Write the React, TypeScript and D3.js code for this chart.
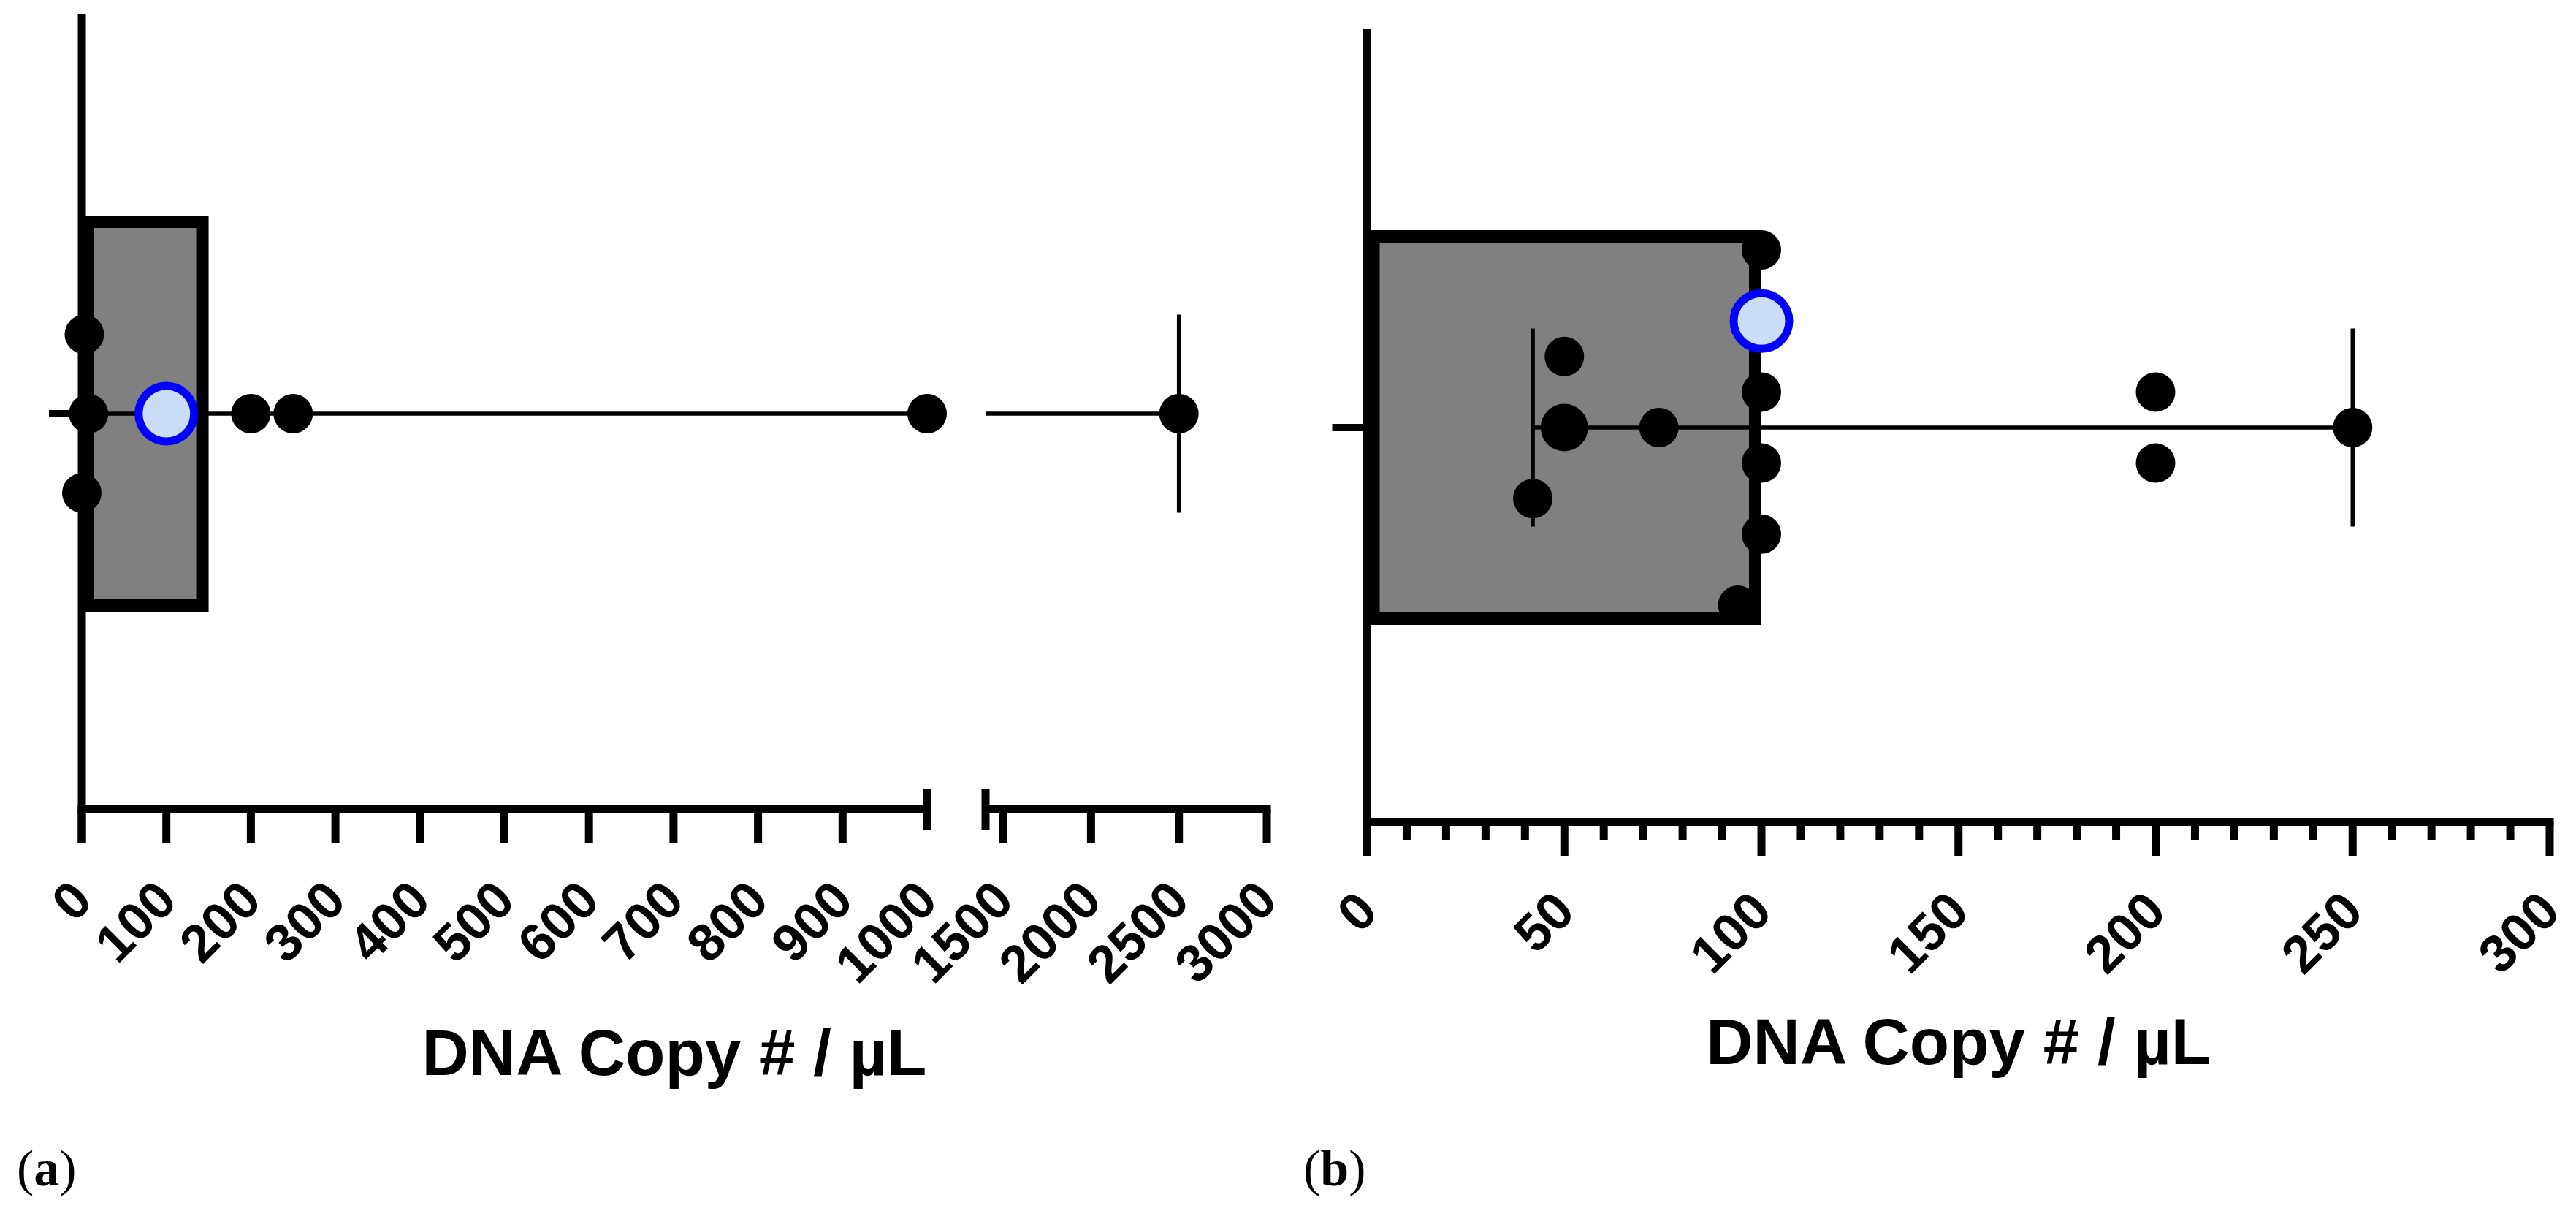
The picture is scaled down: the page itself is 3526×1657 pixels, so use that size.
import React from "react";
import * as d3 from "d3";

// ---------- Panel (a) data ----------
const ticksA1 = [0, 100, 200, 300, 400, 500, 600, 700, 800, 900, 1000];
const ticksA2 = [1500, 2000, 2500, 3000];
const segmentA1 = [0, 1000];
const segmentA2 = [1400, 3000];
const valuesA = [3, 8, 0, 100, 200, 250, 1000, 2500];
const slotsA = [-1, 0, 1, 0, 0, 0, 0, 0];
const highlightA = 3;
const barA = 150;
const rangeA = [0, 2500];

// ---------- Panel (b) data ----------
const ticksB = [0, 50, 100, 150, 200, 250, 300];
const minorTicksB = d3.range(0, 301, 10);
const valuesB = [100, 100, 50, 100, 50, 74, 100, 42, 100, 94, 200, 200, 250];
const slotsB = [-5, -3, -2, -1, 0, 0, 1, 2, 3, 5, -1, 1, 0];
const countsB = [1, 1, 1, 1, 2, 1, 1, 1, 1, 1, 1, 1, 1];
const highlightB = 1;
const barB = 100;
const rangeB = [42, 250];

const axisTitle = "DNA Copy # / µL";
const panelLetters = ["a", "b"];

const FONT = "'Liberation Sans', Arial, sans-serif";
const SERIF = "'Liberation Serif', 'Times New Roman', serif";
const AXW = 11;
const BORDER = 17;
const ERRW = 5.5;
const R = 27;
const BLUE_R = 38;
const BLUE_W = 11;
const TICK_FS = 72;
const TITLE_FS = 89;

function Dot({ cx, cy, highlight, r }: { cx: number; cy: number; highlight: boolean; r: number }) {
  if (highlight)
    return <circle cx={cx} cy={cy} r={BLUE_R} fill="#C9DDF6" stroke="#0000FF" strokeWidth={BLUE_W} />;
  return <circle cx={cx} cy={cy} r={r} fill="#000" />;
}

function TickLabel({ x, y, text }: { x: number; y: number; text: string }) {
  return (
    <text
      transform={`translate(${x},${y}) rotate(-45)`}
      textAnchor="end"
      dominantBaseline="central"
      fontFamily={FONT}
      fontWeight="bold"
      fontSize={TICK_FS}
    >
      {text}
    </text>
  );
}

function PanelA() {
  const axisY = 1107;
  const axisX = 112;
  const topY = 19;
  const cy = 566;
  const half = 271;
  const tickLen = 47;
  const capHalf = 135.5;
  const slot = 108.5;
  const labelY = 1218;
  const x1 = d3.scaleLinear().domain(segmentA1).range([axisX, 1269]);
  const x2 = d3.scaleLinear().domain(segmentA2).range([1349, 1734]);
  const xs = (v: number) => (v <= segmentA1[1] ? x1(v) : x2(v));
  const y = d3.scaleLinear().domain([-1, 1]).range([cy - slot, cy + slot]);
  const barR = x1(barA);
  return (
    <g>
      <rect
        x={axisX + BORDER / 2}
        y={cy - half + BORDER / 2}
        width={barR - axisX - BORDER}
        height={2 * half - BORDER}
        fill="#808080"
        stroke="#000"
        strokeWidth={BORDER}
      />
      <line x1={xs(rangeA[0])} x2={x1(segmentA1[1])} y1={cy} y2={cy} stroke="#000" strokeWidth={ERRW} />
      <line x1={x2(segmentA2[0])} x2={xs(rangeA[1])} y1={cy} y2={cy} stroke="#000" strokeWidth={ERRW} />
      <line x1={xs(rangeA[1])} x2={xs(rangeA[1])} y1={cy - capHalf} y2={cy + capHalf} stroke="#000" strokeWidth={ERRW} />
      <line x1={xs(rangeA[0])} x2={xs(rangeA[0])} y1={cy - capHalf} y2={cy + capHalf} stroke="#000" strokeWidth={ERRW} />
      {valuesA.map((v, i) =>
        i === highlightA ? null : <Dot key={i} cx={xs(v)} cy={y(slotsA[i])} highlight={false} r={R} />
      )}
      <Dot cx={xs(valuesA[highlightA])} cy={y(slotsA[highlightA])} highlight={true} r={R} />
      <line x1={axisX} x2={axisX} y1={topY} y2={axisY + tickLen} stroke="#000" strokeWidth={AXW} />
      <line x1={axisX - 45} x2={axisX} y1={cy} y2={cy} stroke="#000" strokeWidth={10} />
      <line x1={axisX - AXW / 2} x2={x1(segmentA1[1])} y1={axisY} y2={axisY} stroke="#000" strokeWidth={AXW} />
      {ticksA1.slice(0, -1).map((t) => (
        <line key={t} x1={x1(t)} x2={x1(t)} y1={axisY} y2={axisY + tickLen} stroke="#000" strokeWidth={AXW} />
      ))}
      <line x1={x1(segmentA1[1])} x2={x1(segmentA1[1])} y1={axisY - 27} y2={axisY + 28} stroke="#000" strokeWidth={AXW} />
      <line x1={x2(segmentA2[0])} x2={x2(segmentA2[1]) + AXW / 2} y1={axisY} y2={axisY} stroke="#000" strokeWidth={AXW} />
      <line x1={x2(segmentA2[0])} x2={x2(segmentA2[0])} y1={axisY - 27} y2={axisY + 28} stroke="#000" strokeWidth={AXW} />
      {ticksA2.map((t) => (
        <line key={t} x1={x2(t)} x2={x2(t)} y1={axisY} y2={axisY + tickLen} stroke="#000" strokeWidth={AXW} />
      ))}
      {ticksA1.map((t) => (
        <TickLabel key={t} x={x1(t)} y={labelY} text={String(t)} />
      ))}
      {ticksA2.map((t) => (
        <TickLabel key={t} x={x2(t)} y={labelY} text={String(t)} />
      ))}
      <text x={(axisX + 1734) / 2} y={1471} textAnchor="middle" fontFamily={FONT} fontWeight="bold" fontSize={TITLE_FS}>
        {axisTitle}
      </text>
      <text x={23} y={1622} fontFamily={SERIF} fontSize={70}>
        (<tspan fontWeight="bold">{panelLetters[0]}</tspan>)
      </text>
    </g>
  );
}

function PanelB() {
  const axisY = 1124.5;
  const axisX = 1871.5;
  const topY = 40;
  const cy = 585;
  const half = 270;
  const majorLen = 46.5;
  const minorLen = 24.5;
  const capHalf = 135.5;
  const slot = 48.6;
  const labelY = 1233;
  const x = d3.scaleLinear().domain([ticksB[0], ticksB[ticksB.length - 1]]).range([axisX, 3490]);
  const y = d3.scaleLinear().domain([-1, 1]).range([cy - slot, cy + slot]);
  const barR = x(barB);
  return (
    <g>
      <rect
        x={axisX + BORDER / 2}
        y={cy - half + BORDER / 2}
        width={barR - axisX - BORDER}
        height={2 * half - BORDER}
        fill="#808080"
        stroke="#000"
        strokeWidth={BORDER}
      />
      <line x1={x(rangeB[0])} x2={x(rangeB[1])} y1={cy} y2={cy} stroke="#000" strokeWidth={ERRW} />
      {rangeB.map((v) => (
        <line key={v} x1={x(v)} x2={x(v)} y1={cy - capHalf} y2={cy + capHalf} stroke="#000" strokeWidth={ERRW} />
      ))}
      {valuesB.map((v, i) =>
        i === highlightB ? null : (
          <Dot key={i} cx={x(v)} cy={y(slotsB[i])} highlight={false} r={R * (countsB[i] > 1 ? 1.2 : 1)} />
        )
      )}
      <Dot cx={x(valuesB[highlightB])} cy={y(slotsB[highlightB])} highlight={true} r={R} />
      <line x1={axisX} x2={axisX} y1={topY} y2={axisY + majorLen} stroke="#000" strokeWidth={AXW} />
      <line x1={axisX - 48} x2={axisX} y1={cy} y2={cy} stroke="#000" strokeWidth={10} />
      <line x1={axisX - AXW / 2} x2={x(300) + AXW / 2} y1={axisY} y2={axisY} stroke="#000" strokeWidth={AXW} />
      {minorTicksB.map((t) => {
        const major = ticksB.includes(t);
        return (
          <line
            key={t}
            x1={x(t)}
            x2={x(t)}
            y1={axisY}
            y2={axisY + (major ? majorLen : minorLen)}
            stroke="#000"
            strokeWidth={AXW}
          />
        );
      })}
      {ticksB.map((t) => (
        <TickLabel key={t} x={x(t)} y={labelY} text={String(t)} />
      ))}
      <text x={(axisX + 3490) / 2} y={1456} textAnchor="middle" fontFamily={FONT} fontWeight="bold" fontSize={TITLE_FS}>
        {axisTitle}
      </text>
      <text x={1784} y={1622} fontFamily={SERIF} fontSize={70}>
        (<tspan fontWeight="bold">{panelLetters[1]}</tspan>)
      </text>
    </g>
  );
}

export default function App() {
  return (
    <svg
      width={3526}
      height={1657}
      viewBox="0 0 3526 1657"
      style={{ position: "absolute", left: 0, top: 0, background: "#fff" }}
    >
      <rect width={3526} height={1657} fill="#fff" />
      <PanelA />
      <PanelB />
    </svg>
  );
}
